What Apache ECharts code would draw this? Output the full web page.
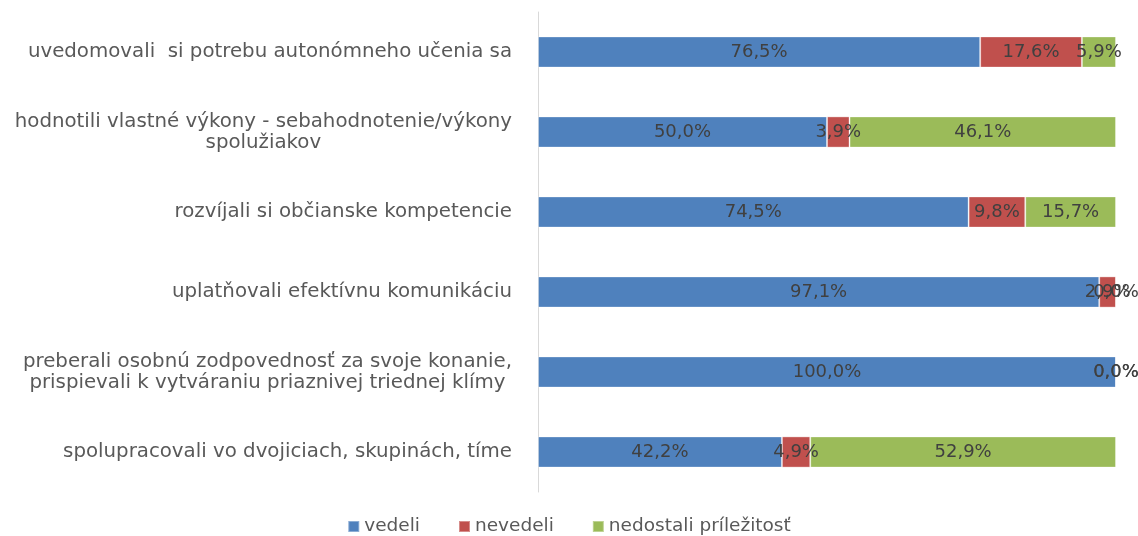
<!DOCTYPE html>
<html>
<head>
<meta charset="utf-8">
<script src="https://cdn.jsdelivr.net/npm/echarts@6/dist/echarts.min.js"></script>
<style>
  html, body { margin: 0; padding: 0; background: #fff; }
  #chart { width: 1138px; height: 536px; }
</style>
</head>
<body>
<div id="chart"></div>
<script>
const categories = [
  'uvedomovali  si potrebu autonómneho učenia sa',
  'hodnotili vlastné výkony - sebahodnotenie/výkony\nspolužiakov',
  'rozvíjali si občianske kompetencie',
  'uplatňovali efektívnu komunikáciu',
  'preberali osobnú zodpovednosť za svoje konanie,\nprispievali k vytváraniu priaznivej triednej klímy',
  'spolupracovali vo dvojiciach, skupinách, tíme'
];
const vedeli = [76.5, 50.0, 74.5, 97.1, 100.0, 42.2];
const nevedeli = [17.6, 3.9, 9.8, 2.9, 0.0, 4.9];
const nedostali = [5.9, 46.1, 15.7, 0.0, 0.0, 52.9];

const FONT = 'DejaVu Sans';
const pct = p => p.value.toFixed(1).replace('.', ',') + '%';

function makeSeries(name, data, color) {
  return {
    name: name,
    type: 'bar',
    stack: 'total',
    barWidth: '39%',
    data: data,
    itemStyle: { color: color, borderColor: 'rgba(255,255,255,0.35)', borderWidth: 1 },
    label: {
      show: true,
      position: 'inside',
      color: '#404040',
      fontFamily: FONT,
      fontSize: 18,
      formatter: pct
    }
  };
}

const chart = echarts.init(document.getElementById('chart'));
chart.setOption({
  animation: false,
  grid: { left: 538, right: 22, top: 12, bottom: 44, containLabel: false },
  legend: {
    top: 512,
    left: 'center',
    itemWidth: 11,
    itemHeight: 11,
    itemGap: 38,
    icon: 'rect',
    textStyle: { color: '#595959', fontFamily: FONT, fontSize: 18.5 },
    data: ['vedeli', 'nevedeli', 'nedostali príležitosť']
  },
  xAxis: {
    type: 'value',
    min: 0,
    max: 100,
    show: false
  },
  yAxis: {
    type: 'category',
    inverse: true,
    data: categories,
    axisLine: { show: true, lineStyle: { color: '#d9d9d9', width: 1 } },
    axisTick: { show: false },
    axisLabel: {
      margin: 26,
      align: 'right',
      color: '#595959',
      fontFamily: FONT,
      fontSize: 19.8,
      lineHeight: 21,
      formatter: v => v.split('\n').map(l => '{c|' + l + '}').join('\n'),
      rich: {
        c: { align: 'center', color: '#595959', fontFamily: FONT, fontSize: 19.8, lineHeight: 21 }
      }
    }
  },
  series: [
    makeSeries('vedeli', vedeli, '#4F81BD'),
    makeSeries('nevedeli', nevedeli, '#C0504D'),
    makeSeries('nedostali príležitosť', nedostali, '#9BBB59')
  ]
});
</script>
</body>
</html>
